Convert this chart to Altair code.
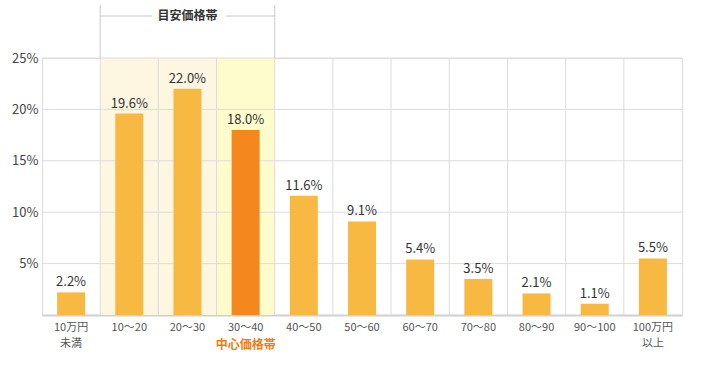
import altair as alt
import pandas as pd

categories = ["10万円|未満", "10～20", "20～30", "30～40", "40～50", "50～60",
              "60～70", "70～80", "80～90", "90～100", "100万円|以上"]
values = [2.2, 19.6, 22.0, 18.0, 11.6, 9.1, 5.4, 3.5, 2.1, 1.1, 5.5]
highlight = ["none", "none", "none", "center", "none", "none", "none", "none", "none", "none", "none"]
bg_cats = ["10～20", "20～30", "30～40"]
bg_colors = ["#fdf6e1", "#fdf6e1", "#fefbcd"]
y_ticks = [5, 10, 15, 20, 25]

df = pd.DataFrame({"cat": categories, "value": values, "hl": highlight})
df["text"] = df["value"].map(lambda v: f"{v:.1f}%")
bg_df = pd.DataFrame({"cat": bg_cats, "color": bg_colors, "top": [25] * 3})
grid_df = pd.DataFrame({"y": y_ticks})
vgrid_df = pd.DataFrame({"cat": categories[1:]})

FONT = "Noto Sans CJK JP"
W, H = 640, 257

xscale = alt.Scale(domain=categories, paddingInner=0, paddingOuter=0)
x_axis = alt.Axis(title=None, ticks=False, grid=False, domainColor="#d0d0d0", domainWidth=2,
                  labelFont=FONT, labelFontSize=11, labelColor="#555555", labelPadding=6,
                  labelAngle=0, labelLineHeight=16,
                  labelExpr="split(datum.value, '|')")
yscale = alt.Scale(domain=[0, 25], nice=False)
y_axis = alt.Axis(title=None, values=y_ticks, ticks=False, grid=False, domain=False,
                  labelFont=FONT, labelFontSize=13, labelColor="#444444", labelPadding=4,
                  labelExpr="datum.value + '%'")

bg = alt.Chart(bg_df).mark_bar(width=alt.RelativeBandSize(1)).encode(
    x=alt.X("cat:N", scale=xscale, axis=x_axis, sort=categories),
    y=alt.Y("top:Q", scale=yscale, axis=y_axis),
    color=alt.Color("color:N", scale=None),
)

hgrid = alt.Chart(grid_df).mark_rule(color="#dcdcdc", strokeWidth=1).encode(
    y=alt.Y("y:Q", scale=yscale)
)

vgrid = alt.Chart(vgrid_df).mark_rule(color="#dcdcdc", strokeWidth=1).encode(
    x=alt.X("cat:N", scale=xscale, sort=categories, bandPosition=0)
)

bars = alt.Chart(df).mark_bar(width=28).encode(
    x=alt.X("cat:N", scale=xscale, sort=categories),
    y=alt.Y("value:Q", scale=yscale),
    color=alt.Color("hl:N", scale=alt.Scale(domain=["none", "center"], range=["#f8b942", "#f5871f"]), legend=None),
)

texts = alt.Chart(df).mark_text(dy=-10, font=FONT, fontSize=13, color="#333333").encode(
    x=alt.X("cat:N", scale=xscale, sort=categories),
    y=alt.Y("value:Q", scale=yscale),
    text="text:N",
)

center_df = pd.DataFrame({"cat": ["30～40"], "t": ["中心価格帯"]})
center_text = alt.Chart(center_df).mark_text(font=FONT, fontSize=12, fontWeight="bold",
                                             color="#f07c10", baseline="middle").encode(
    x=alt.X("cat:N", scale=xscale, sort=categories),
    y=alt.value(H + 30),
    text="t:N",
)

br_left = alt.Chart(pd.DataFrame({"cat": ["10～20"]})).mark_rule(color="#c8c8c8").encode(
    x=alt.X("cat:N", scale=xscale, sort=categories, bandPosition=0),
    y=alt.value(-53), y2=alt.value(0),
)
br_right = alt.Chart(pd.DataFrame({"cat": ["30～40"]})).mark_rule(color="#c8c8c8").encode(
    x=alt.X("cat:N", scale=xscale, sort=categories, bandPosition=1),
    y=alt.value(-53), y2=alt.value(0),
)
br_h1 = alt.Chart(pd.DataFrame({"cat": ["10～20"]})).mark_rule(color="#c8c8c8").encode(
    x=alt.value(W / 11), x2=alt.value(110), y=alt.value(-42),
)
br_h2 = alt.Chart(pd.DataFrame({"cat": ["30～40"]})).mark_rule(color="#c8c8c8").encode(
    x=alt.value(184), x2=alt.value(W / 11 * 4), y=alt.value(-42),
)
br_text = alt.Chart(pd.DataFrame({"t": ["目安価格帯"]})).mark_text(
    font=FONT, fontSize=12, fontWeight="bold", color="#333333", baseline="middle").encode(
    x=alt.value(W / 11 * 2.5), y=alt.value(-42), text="t:N",
)

chart = alt.layer(bg, hgrid, vgrid, bars, texts, center_text,
                  br_left, br_right, br_h1, br_h2, br_text).properties(
    width=W, height=H,
    autosize=alt.AutoSizeParams(type="none"),
    padding={"left": 42, "top": 58, "right": 22, "bottom": 53},
).configure_view(stroke="#d5d5d5", strokeWidth=1).configure(background="white")

chart.save("out.html", embed_options={"renderer": "svg", "actions": False})
